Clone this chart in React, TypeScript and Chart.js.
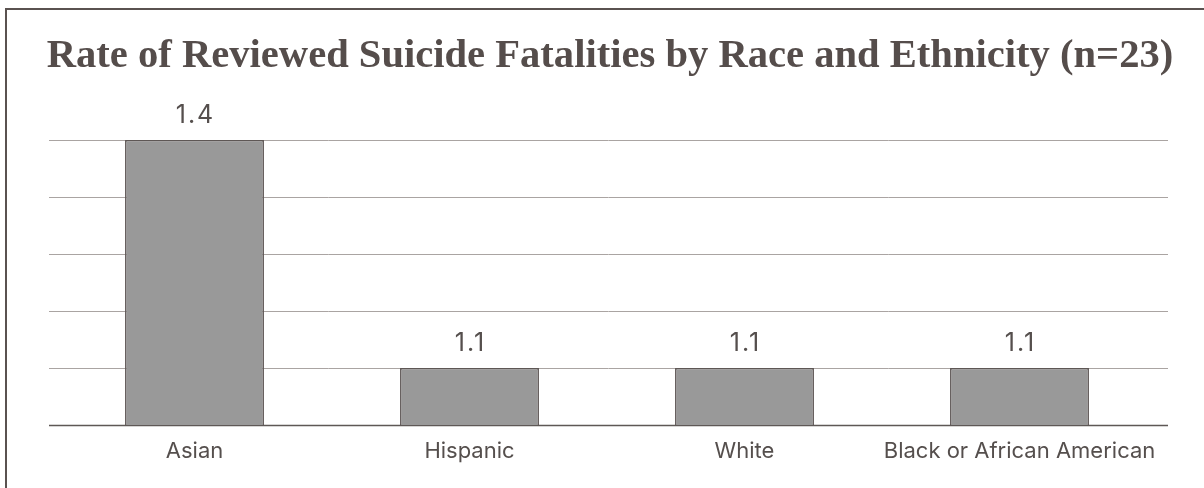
import React, { useEffect, useRef } from "react";
import { Chart, registerables } from "chart.js";

Chart.register(...registerables);

const titleText = "Rate of Reviewed Suicide Fatalities by Race and Ethnicity (n=23)";
const categories = ["Asian", "Hispanic", "White", "Black or African American"];
const rates = [1.4, 1.1, 1.1, 1.1];
// horizontal guide lines (value axis is hidden)
const gridValues = [1.025, 1.1, 1.175, 1.25, 1.325, 1.4];
const axisMin = 1.025;
const axisMax = 1.4;

const labelFont = "Inter, sans-serif";
const textColor = "#554f4d";

const gridPlugin = {
  id: "guideLines",
  beforeDatasetsDraw(chart: any) {
    const { ctx, scales } = chart;
    const y = scales.y;
    const left = 49;
    const right = 1168;
    ctx.save();
    gridValues.forEach((v, i) => {
      const py = Math.round(y.getPixelForValue(v)) + 0.5;
      ctx.beginPath();
      ctx.strokeStyle = i === 0 ? "#5e5856" : "#aaa4a2";
      ctx.lineWidth = i === 0 ? 1.5 : 1;
      ctx.moveTo(left, py);
      ctx.lineTo(right, py);
      ctx.stroke();
    });
    ctx.restore();
  },
  afterDatasetsDraw(chart: any) {
    const { ctx, scales } = chart;
    const meta = chart.getDatasetMeta(0);
    ctx.save();
    ctx.fillStyle = textColor;
    ctx.textAlign = "center";
    ctx.textBaseline = "middle";
    // value labels above the bars, slightly tracked out
    ctx.font = `25px ${labelFont}`;
    (ctx as any).letterSpacing = "2px";
    meta.data.forEach((bar: any, i: number) => {
      ctx.fillText(rates[i].toFixed(1), bar.x + 1, bar.y - 25);
    });
    (ctx as any).letterSpacing = "0px";
    // category labels under the baseline
    ctx.font = `22px ${labelFont}`;
    const base = scales.y.getPixelForValue(axisMin);
    chart.data.labels.forEach((label: string, i: number) => {
      ctx.fillText(label, scales.x.getPixelForValue(i), base + 26);
    });
    ctx.restore();
  },
};

// invisible side axes that only reserve horizontal space around the plot
const spacerAxis = (position: "left" | "right", width: number) => ({
  position,
  min: axisMin,
  max: axisMax,
  grid: { display: false, drawTicks: false },
  border: { display: false },
  ticks: { display: false },
  afterFit: (scale: any) => {
    scale.width = width;
  },
});

export default function App() {
  const canvasRef = useRef<HTMLCanvasElement | null>(null);

  useEffect(() => {
    if (!canvasRef.current) return;
    const chart = new Chart(canvasRef.current, {
      type: "bar",
      data: {
        labels: categories,
        datasets: [
          {
            data: rates,
            backgroundColor: "#999999",
            borderColor: "#5e5755",
            borderWidth: 1.5,
            categoryPercentage: 1,
            barPercentage: 0.505,
          },
        ],
      },
      options: {
        animation: false,
        responsive: false,
        maintainAspectRatio: false,
        layout: { padding: { top: 32, left: 16, right: 0, bottom: 63 } },
        plugins: {
          legend: { display: false },
          tooltip: { enabled: false },
          title: {
            display: true,
            text: titleText,
            color: "#554d4b",
            font: { family: "'Liberation Serif', 'Times New Roman', serif", size: 40.6, weight: "bold", lineHeight: 1.2 },
            padding: { top: 0, bottom: 59.3 },
          },
        },
        scales: {
          x: { display: false },
          y: spacerAxis("left", 41),
          yRight: spacerAxis("right", 47),
        },
      },
      plugins: [gridPlugin],
    });
    return () => chart.destroy();
  }, []);

  return (
    <div style={{ position: "fixed", left: 0, top: 0, width: 1204, height: 488, overflow: "hidden", background: "#fff" }}>
      <div
        style={{
          position: "absolute",
          left: 5,
          top: 8,
          width: 1300,
          height: 600,
          border: "2px solid #5a5250",
        }}
      />
      <canvas ref={canvasRef} width={1204} height={488} style={{ position: "absolute", left: 0, top: 0 }} />
    </div>
  );
}
